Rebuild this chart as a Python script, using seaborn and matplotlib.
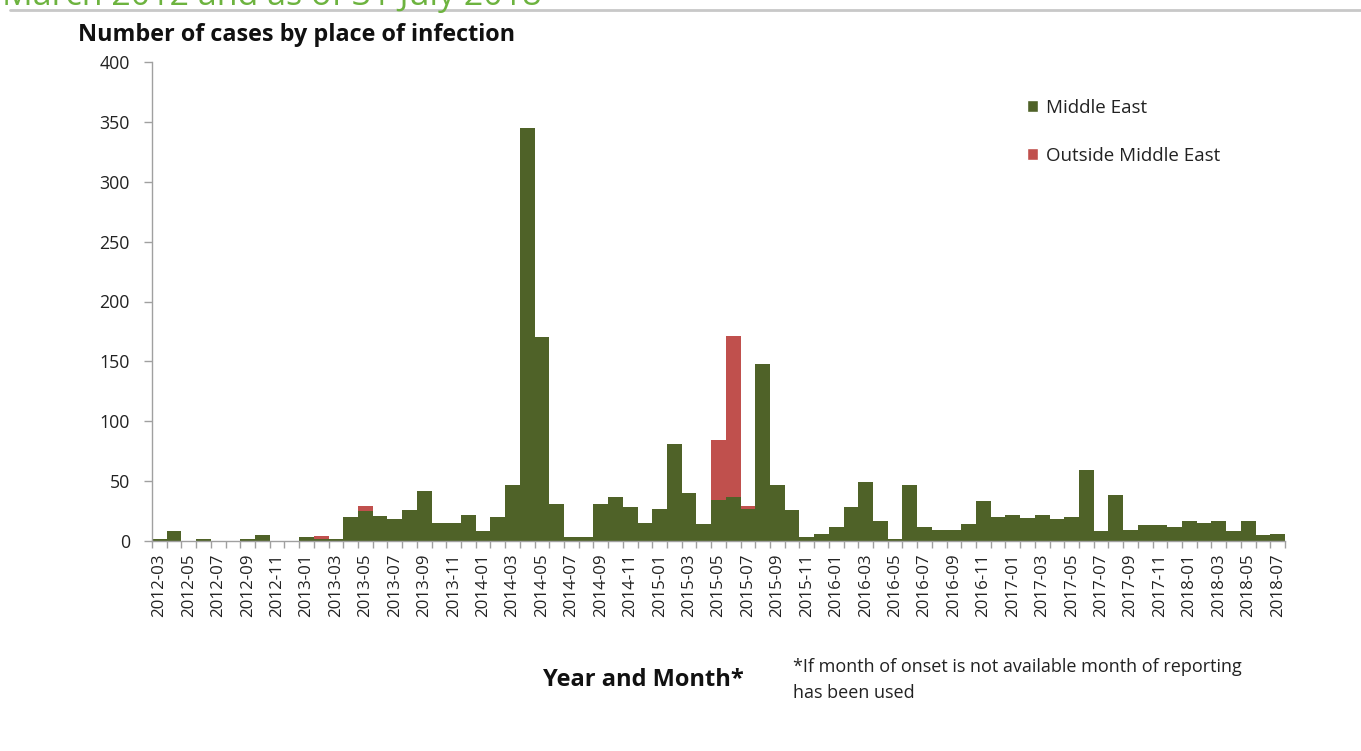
import matplotlib
matplotlib.use("Agg")
import matplotlib.pyplot as plt
import seaborn as sns
import pandas as pd
from matplotlib.patches import Patch
from matplotlib.lines import Line2D

months = [f"{y}-{m:02d}" for y in range(2012, 2019) for m in range(1, 13)]
months = months[months.index("2012-03"):months.index("2018-07") + 1]

middle_east = [2, 8, 0, 2, 0, 0, 2, 5, 0, 0,
               3, 2, 2, 20, 25, 21, 18, 26, 42, 15,
               15, 22, 8, 20, 47, 345, 170, 31, 3, 3,
               31, 37, 28, 15, 27, 81, 40, 14, 34, 37,
               27, 148, 47, 26, 3, 6, 12, 28, 49, 17,
               2, 47, 12, 9, 9, 14, 33, 20, 22, 19,
               22, 18, 20, 59, 8, 38, 9, 13, 13, 12,
               17, 15, 17, 8, 17, 5, 6]
outside_me = [0] * 77
outside_me[months.index("2013-02")] = 2
outside_me[months.index("2013-05")] = 4
outside_me[months.index("2015-05")] = 50
outside_me[months.index("2015-06")] = 134
outside_me[months.index("2015-07")] = 2

df = pd.DataFrame({"month": months, "me": middle_east, "out": outside_me})
df["total"] = df["me"] + df["out"]

GREEN = "#4f6228"
RED = "#c0504d"

sns.set_theme(style="white")
plt.rcParams["font.family"] = ["Open Sans", "DejaVu Sans"]

fig = plt.figure(figsize=(13.61, 7.51), dpi=100)
ax = fig.add_axes([152 / 1361, 1 - 541 / 751, (1285 - 152) / 1361, (541 - 62) / 751])

sns.barplot(data=df, x="month", y="total", order=months, color=RED, width=1.0,
            saturation=1, ax=ax, linewidth=0)
sns.barplot(data=df, x="month", y="me", order=months, color=GREEN, width=1.0,
            saturation=1, ax=ax, linewidth=0)

n = len(months)
ax.set_xlim(-0.5, n - 0.5)
ax.set_ylim(0, 400)
ax.set_yticks(range(0, 401, 50))
ax.tick_params(axis="y", which="major", length=6, width=1, color="#a0a0a0",
               labelsize=12.8, labelcolor="#222222", pad=10, left=True)
ax.set_xticks(range(0, n, 2))
ax.set_xticklabels([months[i] for i in range(0, n, 2)], rotation=90,
                   fontsize=12.2, color="#222222")
ax.tick_params(axis="x", which="major", length=0, pad=9)
ax.set_xticks([i - 0.5 for i in range(n + 1)], minor=True)
ax.tick_params(axis="x", which="minor", length=5, width=1, color="#a0a0a0", bottom=True)
ax.set_xlabel("")
ax.set_ylabel("")
for s in ["top", "right"]:
    ax.spines[s].set_visible(False)
for s in ["left", "bottom"]:
    ax.spines[s].set_color("#a0a0a0")
    ax.spines[s].set_linewidth(1)

fig.text(78 / 1361, 1 - 35 / 751, "Number of cases by place of infection",
         fontsize=16.8, fontweight="bold", color="#111111", va="center", ha="left")
fig.text(643 / 1361, 1 - 680 / 751, "Year and Month*", fontsize=17,
         fontweight="bold", color="#111111", va="center", ha="center")
fig.text(793 / 1361, 1 - 667 / 751,
         "*If month of onset is not available month of reporting",
         fontsize=13, color="#222222", va="center", ha="left")
fig.text(793 / 1361, 1 - 693 / 751, "has been used",
         fontsize=13, color="#222222", va="center", ha="left")

fig.text(2 / 1361, 1 - 5 / 751, "March 2012 and as of 31 July 2018",
         fontsize=24.5, color="#6db33f", va="baseline", ha="left")
fig.add_artist(Line2D([10 / 1361, 1.0], [1 - 10 / 751, 1 - 10 / 751],
                      transform=fig.transFigure, color="#c8c8c8", linewidth=2))

handles = [Patch(facecolor=GREEN, label="Middle East"),
           Patch(facecolor=RED, label="Outside Middle East")]
fig.legend(handles=handles, loc="upper left",
           bbox_to_anchor=(1010 / 1361, 1 - 82 / 751), frameon=False,
           fontsize=13.5, handlelength=0.6, handleheight=0.6, handletextpad=0.4,
           labelspacing=1.6, labelcolor="#222222")

fig.savefig("out.png", dpi=100, facecolor="white")
